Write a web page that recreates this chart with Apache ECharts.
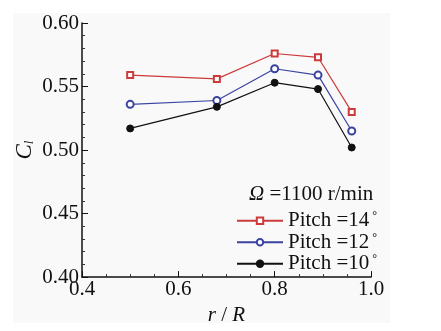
<!DOCTYPE html>
<html>
<head>
<meta charset="utf-8">
<script src="https://cdn.jsdelivr.net/npm/echarts@6/dist/echarts.min.js"></script>
<style>
  html, body { margin: 0; padding: 0; background: #fff; }
  #chart { width: 441px; height: 331px; }
</style>
</head>
<body>
<div id="chart"></div>
<script>
// r/R positions
const radius = [0.50, 0.68, 0.80, 0.89, 0.96];
// lift coefficient per pitch angle
const pitch14 = [0.559, 0.556, 0.576, 0.573, 0.530];
const pitch12 = [0.536, 0.539, 0.564, 0.559, 0.515];
const pitch10 = [0.517, 0.534, 0.553, 0.548, 0.502];
const seriesNames = ["Pitch =14", "Pitch =12", "Pitch =10"];

const serif = "Liberation Serif";

const pairs = (ys) => radius.map((x, i) => [x, ys[i]]);

const mkSeries = (name, ys, color, symbol, size) => ({
  name,
  type: "line",
  data: pairs(ys),
  symbol,
  symbolSize: size,
  showSymbol: true,
  lineStyle: { color, width: 1.2 },
  itemStyle: { color, borderColor: color, borderWidth: 1 },
  emphasis: { disabled: true },
});

const option = {
  animation: false,
  backgroundColor: "#fff",
  graphic: [
    {
      type: "rect",
      z: -10,
      shape: { x: 13, y: 13, width: 377, height: 310 },
      style: { fill: "#f9f9f9" },
    },
  ],
  title: {
    text: "{o|Ω} =1100 r/min",
    left: 249,
    top: 184,
    padding: 0,
    textStyle: {
      fontFamily: serif,
      fontSize: 21,
      fontWeight: "normal",
      color: "#111",
      rich: {
        o: { fontFamily: serif, fontSize: 21, fontStyle: "italic", color: "#111" },
      },
    },
  },
  legend: {
    orient: "vertical",
    left: 236,
    top: 210,
    padding: 0,
    itemWidth: 46,
    itemHeight: 8,
    itemGap: 0,
    data: seriesNames,
    formatter: (n) => n + "{d|°}",
    textStyle: {
      fontFamily: serif,
      fontSize: 21,
      color: "#111",
      lineHeight: 21.5,
      padding: [0, 0, 0, 0],
      rich: {
        d: { fontFamily: serif, fontSize: 12, verticalAlign: "top", lineHeight: 21.5, padding: [0, 0, 6, 3] },
      },
    },
  },
  grid: { left: 82, right: 70, top: 23, bottom: 44 },
  xAxis: {
    type: "value",
    min: 0.4,
    max: 1.0,
    interval: 0.2,
    name: "{i|r} / {i|R}",
    nameLocation: "middle",
    nameGap: 26,
    nameTextStyle: {
      fontFamily: serif,
      fontSize: 21,
      color: "#111",
      rich: { i: { fontFamily: serif, fontSize: 21, fontStyle: "italic", color: "#111" } },
    },
    axisLine: { show: true, lineStyle: { color: "#111", width: 1.5 } },
    axisTick: { show: true, inside: true, length: 6, lineStyle: { color: "#111", width: 1 } },
    minorTick: { show: true, splitNumber: 4, length: 3, lineStyle: { color: "#333", width: 1 } },
    splitLine: { show: false },
    axisLabel: {
      fontFamily: serif,
      fontSize: 21,
      color: "#111",
      margin: 2,
      formatter: (v) => v.toFixed(1),
    },
  },
  yAxis: {
    type: "value",
    min: 0.4,
    max: 0.6,
    interval: 0.05,
    name: "{c|C}{s|l}",
    nameLocation: "middle",
    nameGap: 46,
    nameMoveOverlap: false,
    nameRotate: 90,
    nameTextStyle: {
      fontFamily: serif,
      color: "#111",
      rich: {
        c: { fontFamily: serif, fontSize: 23, fontStyle: "italic", color: "#111" },
        s: { fontFamily: serif, fontSize: 13, fontStyle: "italic", color: "#111", verticalAlign: "bottom", padding: [8, 0, 0, 0] },
      },
    },
    axisLine: { show: true, lineStyle: { color: "#111", width: 1.5 } },
    axisTick: { show: true, inside: true, length: 6, lineStyle: { color: "#111", width: 1 } },
    minorTick: { show: true, splitNumber: 5, length: 3, lineStyle: { color: "#333", width: 1 } },
    splitLine: { show: false },
    axisLabel: {
      fontFamily: serif,
      fontSize: 21,
      color: "#111",
      margin: 3,
      formatter: (v) => v.toFixed(2),
    },
  },
  series: [
    mkSeries(seriesNames[0], pitch14, "#cc3a3a", "emptyRect", 6),
    mkSeries(seriesNames[1], pitch12, "#3a44a0", "emptyCircle", 7),
    mkSeries(seriesNames[2], pitch10, "#111111", "circle", 7),
  ],
};

const chart = echarts.init(document.getElementById("chart"));
chart.setOption(option);
</script>
</body>
</html>
